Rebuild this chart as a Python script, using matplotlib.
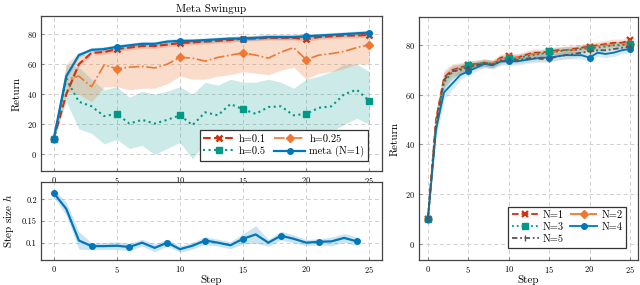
import numpy as np
import matplotlib.pyplot as plt

plt.rcParams['font.family'] = ['cmr10', 'DejaVu Serif']
plt.rcParams['mathtext.fontset'] = 'cm'
plt.rcParams['axes.formatter.use_mathtext'] = True

# Tol vibrant colours
RED, ORANGE, TEAL, BLUE, GREY = '#CC3311', '#EE7733', '#009988', '#0077BB', '#555555'

steps = np.arange(26)

# ---- Meta Swingup: return vs step for fixed h and meta-learned h ----
h01 = [10, 40, 60, 67.5, 68, 70, 71, 72, 72, 73, 74, 74.5, 75, 75.5, 76, 77, 77, 77.5, 77.5, 77.5, 76.5, 78, 78.5, 79, 79, 79.5]
h025 = [10, 50, 52, 45, 59.5, 57, 58, 58.5, 57.5, 60, 64.5, 64, 62, 64.5, 66, 67.5, 66, 64, 68, 71, 63, 66, 67, 68.5, 71, 73]
h025_lo = [10, 42, 40, 35, 45, 45, 43, 44, 44, 47, 52, 50, 50, 52, 53, 55, 54, 53, 56, 58, 50, 54, 55, 57, 60, 60]
h025_hi = [10, 60, 68, 65, 72, 70, 72, 73, 73, 74, 76, 77, 77, 77, 78, 79, 79, 80, 80, 80, 80, 80, 80, 81, 81, 82]
h05 = [10, 50, 35, 32, 25.5, 27, 20.5, 23, 20.5, 23, 26, 19.5, 28, 26, 33.5, 30, 27, 31.5, 32, 26, 27, 31, 32, 40, 43, 35.5]
h05_lo = [10, 35, 17, 14, 7, 10, 4, 6, 0, 4, 8, -3, 8, 5, 12, 10, 6, 12, 10, 6, 8, 12, 15, 20, 24, 20]
h05_hi = [10, 60, 58, 50, 43, 45, 38, 42, 40, 42, 45, 40, 48, 46, 50, 48, 48, 50, 48, 44, 50, 52, 55, 60, 60, 55]
meta = [10, 52, 66, 69.5, 70, 71.5, 72.5, 73.5, 73.5, 75, 75.5, 75.5, 76, 76.5, 77, 77, 77.5, 78, 78, 78, 78.5, 79, 79.5, 80, 80.5, 81]

# ---- step size h learned by meta ----
h_steps = np.arange(25)
h_meta = [0.215, 0.178, 0.105, 0.092, 0.092, 0.093, 0.090, 0.100, 0.088, 0.100, 0.085, 0.093, 0.105,
          0.100, 0.094, 0.109, 0.119, 0.100, 0.116, 0.109, 0.100, 0.102, 0.103, 0.111, 0.103]
h_meta_sd = [0.01, 0.015, 0.02, 0.008, 0.008, 0.009, 0.008, 0.008, 0.009, 0.008, 0.007, 0.008, 0.009,
             0.008, 0.008, 0.012, 0.02, 0.008, 0.01, 0.009, 0.007, 0.007, 0.01, 0.01, 0.01]

# ---- number of inner samples N ----
n1 = [10, 50, 67, 70, 71, 72, 72.5, 73, 72.5, 75, 75.5, 75, 76, 77, 77, 77.5, 78, 78, 78.5, 79, 79.5, 80, 80.5, 81, 81, 82]
n2 = [10, 49, 66, 69.5, 70.5, 71.5, 72, 73, 72.5, 74.5, 75, 75, 75.5, 76.5, 76.5, 77, 77.5, 78, 78, 78.5, 79, 79.5, 80, 80, 80.5, 80.5]
n3 = [10, 48, 65, 69, 70.5, 72, 72.5, 73, 72.5, 74, 75, 74.5, 75.5, 76, 76.5, 77.5, 77.5, 78, 78, 78.5, 79, 79, 79.5, 80, 80, 80.5]
n4 = [10, 46, 61, 64.5, 68, 69.5, 71, 72.5, 72, 73.5, 73.5, 73.5, 74, 74.5, 75, 75, 75.5, 76, 76, 76, 75, 77, 76.5, 77, 78, 78.5]
n5 = [10, 48, 66, 69.5, 70, 71, 72, 72.5, 72, 73.5, 74, 74, 74.5, 75, 74.5, 74.5, 75.5, 76, 76.5, 77, 77.5, 78, 78, 78.5, 79, 79.5]
n_band = [2, 4, 3, 2.5, 2, 1.5, 1.5, 1.5, 1.5, 1.5, 1.5, 1.5, 1.5, 1.5, 1.5, 1.5, 1.5, 1.5, 1.5, 1.5, 1.5, 1.5, 1.5, 1.5, 1.5, 1.5]


def style_axes(ax):
    ax.grid(True, ls=(0, (4, 3)), color='#d0d0d0', lw=0.7)
    ax.set_axisbelow(True)
    for s in ax.spines.values():
        s.set_color('#444444')
        s.set_linewidth(0.9)
    ax.tick_params(labelsize=6, direction='in', length=2, color='#888888', pad=3)


def boxed_legend(ax, order, **kw):
    h, l = ax.get_legend_handles_labels()
    leg = ax.legend([h[i] for i in order], [l[i] for i in order], loc='lower right', ncol=2,
                    fontsize=7.5, frameon=True, fancybox=False, edgecolor='#333333', framealpha=1,
                    borderpad=0.35, labelspacing=0.25, handletextpad=0.4, **kw)
    leg.get_frame().set_linewidth(0.9)


fig = plt.figure(figsize=(6.4, 2.85), dpi=100)
ax1 = fig.add_axes([41 / 640, 1 - 171 / 285, 341 / 640, 155 / 285])
ax2 = fig.add_axes([41 / 640, 1 - 260 / 285, 341 / 640, 78 / 285])
ax3 = fig.add_axes([419 / 640, 1 - 260 / 285, 219 / 640, 243 / 285])

# top-left
ax1.fill_between(steps, h05_lo, h05_hi, color=TEAL, alpha=0.2, lw=0)
ax1.fill_between(steps, h025_lo, h025_hi, color=ORANGE, alpha=0.25, lw=0)
ax1.fill_between(steps, np.array(h01) - 1.5, np.array(h01) + 1.5, color=RED, alpha=0.2, lw=0)
ax1.fill_between(steps, np.array(meta) - 1.5, np.array(meta) + 1.5, color=BLUE, alpha=0.2, lw=0)
ax1.plot(steps, h01, color=RED, ls='--', lw=1.5, marker='x', ms=5, mew=1.8, markevery=5, label='h=0.1')
ax1.plot(steps, h025, color=ORANGE, ls='-.', lw=1.2, marker='D', ms=4, markevery=5, label='h=0.25')
ax1.plot(steps, h05, color=TEAL, ls=':', lw=1.5, marker='s', ms=4, markevery=5, label='h=0.5')
ax1.plot(steps, meta, color=BLUE, ls='-', lw=1.6, marker='o', ms=4, markevery=5, label='meta (N=1)')
ax1.set_xlim(-1, 26)
ax1.set_ylim(-11, 92)
ax1.set_xticks([0, 5, 10, 15, 20, 25])
ax1.set_yticks([0, 20, 40, 60, 80])
ax1.set_ylabel('Return', fontsize=8)
ax1.set_title('Meta Swingup', fontsize=8, pad=3)
style_axes(ax1)
boxed_legend(ax1, [0, 2, 1, 3], handlelength=3, columnspacing=0.8, bbox_to_anchor=(0.975, 0.03))

# bottom-left
h_meta = np.array(h_meta)
h_meta_sd = np.array(h_meta_sd)
ax2.fill_between(h_steps, h_meta - h_meta_sd, h_meta + h_meta_sd, color=BLUE, alpha=0.2, lw=0)
ax2.plot(h_steps, h_meta, color=BLUE, lw=1.6, marker='o', ms=4, markevery=3)
ax2.set_xlim(-1, 26)
ax2.set_ylim(0.06, 0.24)
ax2.set_xticks([0, 5, 10, 15, 20, 25])
ax2.set_yticks([0.1, 0.15, 0.2])
ax2.set_yticklabels(['0.1', '0.15', '0.2'])
ax2.set_xlabel('Step', fontsize=8, labelpad=0)
ax2.set_ylabel('Step size $h$', fontsize=8)
style_axes(ax2)

# right
runs = [(n1, RED, '--', 'x', 'N=1'), (n2, ORANGE, '-.', 'D', 'N=2'), (n3, TEAL, ':', 's', 'N=3'),
        (n4, BLUE, '-', 'o', 'N=4'), (n5, GREY, (0, (3, 1.5, 1, 1.5)), '|', 'N=5')]
for vals, c, ls, mk, lab in runs:
    v = np.array(vals)
    ax3.fill_between(steps, v - np.array(n_band), v + np.array(n_band), color=c if c != GREY else '#999999',
                     alpha=0.15, lw=0)
for vals, c, ls, mk, lab in runs:
    ax3.plot(steps, vals, color=c, ls=ls, lw=1.3, marker=mk, ms=4 if mk != 'x' else 5,
             mew=1.6 if mk == 'x' else 1, markevery=5, label=lab)
ax3.set_xlim(-1.1, 26)
ax3.set_ylim(-6.6, 91.4)
ax3.set_xticks([0, 5, 10, 15, 20, 25])
ax3.set_yticks([0, 20, 40, 60, 80])
ax3.set_xlabel('Step', fontsize=8, labelpad=0)
ax3.set_ylabel('Return', fontsize=8)
style_axes(ax3)
boxed_legend(ax3, [0, 2, 4, 1, 3], handlelength=2.6, columnspacing=0.6, bbox_to_anchor=(0.97, 0.03))

fig.savefig('out.png', dpi=100)
